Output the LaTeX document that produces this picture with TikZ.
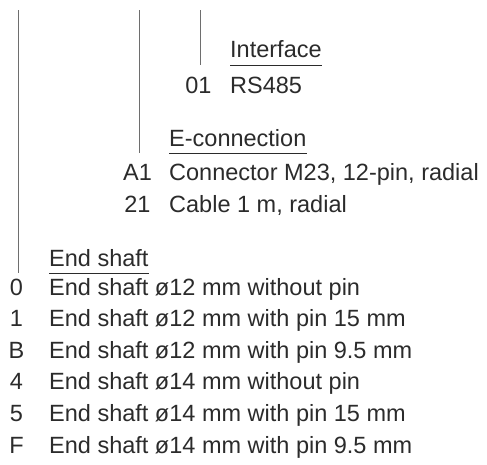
\documentclass[tikz,border=0pt]{standalone}
\usepackage{fontspec}
\setmainfont{Liberation Sans}
\usepackage{xcolor}
\usepackage{tikz}
\definecolor{textc}{HTML}{2B2B2B}
\definecolor{guidec}{HTML}{6E6E6E}
\tikzset{
  codenode/.style={anchor=base, inner sep=0pt, text=textc, font=\fontsize{23.5}{28}\selectfont},
  itemnode/.style={anchor=base west, inner sep=0pt, text=textc, font=\fontsize{23.5}{28}\selectfont},
  headnode/.style={itemnode},
  guideline/.style={draw=guidec, line width=0.9pt},
  underline/.style={draw=textc, line width=0.9pt},
}

\begin{document}
\begin{tikzpicture}[x=1pt, y=-1pt]
  \useasboundingbox (0,0) rectangle (487,464);
  % guide lines
  \coordinate (gs) at (18,10);
  \coordinate (ge) at (139,10);
  \coordinate (gi) at (200,10);
  % interface
  \node[headnode] (hif) at (230,57) {Interface};
  \node[codenode] (c01) at (198.5,93) {01};
  \node[itemnode] (t01) at (230,93) {RS485};
  % e-connection
  \node[headnode] (hec) at (169,146) {E-connection};
  \node[codenode] (cA1) at (137.5,180) {A1};
  \node[itemnode] (tA1) at (169,180) {Connector M23, 12-pin, radial};
  \node[codenode] (c21) at (137.5,212) {21};
  \node[itemnode] (t21) at (169,212) {Cable 1 m, radial};
  % end shaft
  \node[headnode] (hes) at (49,266) {End shaft};
  \node[codenode] (c0) at (16.5,295) {0};
  \node[itemnode] (t0) at (49,295) {End shaft ø12 mm without pin};
  \node[codenode] (c1) at (16.5,326.6) {1};
  \node[itemnode] (t1) at (49,326.6) {End shaft ø12 mm with pin 15 mm};
  \node[codenode] (cB) at (16.5,358.2) {B};
  \node[itemnode] (tB) at (49,358.2) {End shaft ø12 mm with pin 9.5 mm};
  \node[codenode] (c4) at (16.5,389.8) {4};
  \node[itemnode] (t4) at (49,389.8) {End shaft ø14 mm without pin};
  \node[codenode] (c5) at (16.5,421.4) {5};
  \node[itemnode] (t5) at (49,421.4) {End shaft ø14 mm with pin 15 mm};
  \node[codenode] (cF) at (16.5,453) {F};
  \node[itemnode] (tF) at (49,453) {End shaft ø14 mm with pin 9.5 mm};
  % underlines and guides
  \draw[underline] ([yshift=-8pt]hif.base west) -- ([yshift=-8pt]hif.base east);
  \draw[underline] ([yshift=-7pt]hec.base west) -- ([yshift=-7pt]hec.base east);
  \draw[underline] ([yshift=-7pt]hes.base west) -- ([yshift=-7pt]hes.base east);
  \draw[guideline] (gi) -- (gi |- 0,65);
  \draw[guideline] (ge) -- (ge |- 0,153);
  \draw[guideline] (gs) -- (gs |- 0,273);
\end{tikzpicture}
\end{document}
